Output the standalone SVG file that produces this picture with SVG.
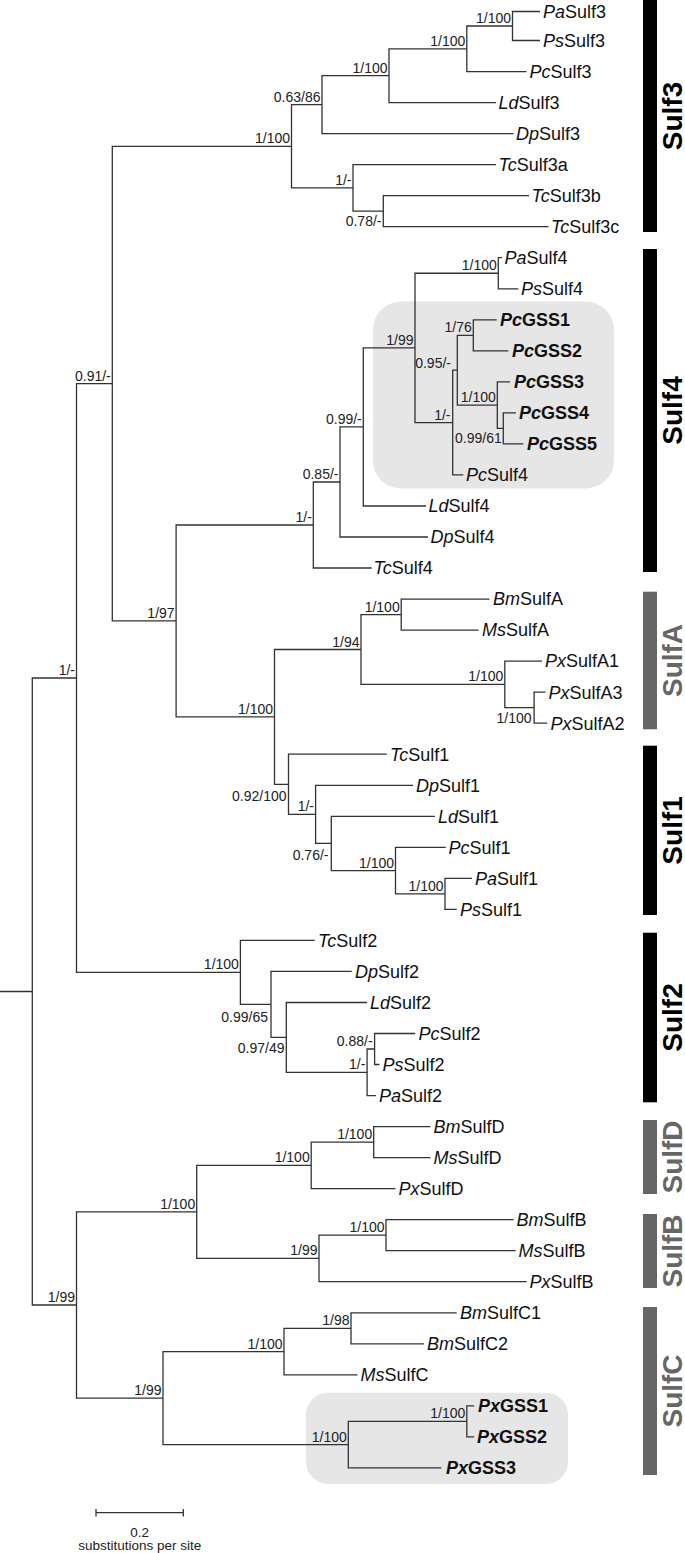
<svg xmlns="http://www.w3.org/2000/svg" width="685" height="1553" viewBox="0 0 685 1553">
<style>
.br{fill:none;stroke:#333;stroke-width:1.3}
.lf{font-family:"Liberation Sans",Arial,sans-serif;font-size:18px;fill:#111}
.gs{font-weight:bold}
.i{font-style:italic}
.sp{font-family:"Liberation Sans",Arial,sans-serif;font-size:14px;fill:#222;text-anchor:end}
.grp{font-family:"Liberation Sans",Arial,sans-serif;font-size:28px;font-weight:bold;text-anchor:middle}
.bk{fill:#000}
.gy{fill:#666}
.box{fill:#e6e6e6}
.sc{font-family:"Liberation Sans",Arial,sans-serif;font-size:13.5px;fill:#222;text-anchor:middle}
</style>
<rect width="685" height="1553" fill="#fff"/>
<g id="highlight-boxes">
<rect class="box" x="373" y="301.5" width="241" height="187" rx="28"/>
<rect class="box" x="306" y="1392.7" width="262" height="91.3" rx="22"/>
</g>
<g id="connectors">
<path class="br" d="M0 991.5H32.3M76.5 678H32.3V1305H76.5"/>
<path class="br" d="M112.3 383.6H76.5V972.4H240.4"/>
<path class="br" d="M291.5 146.3H112.3V620.95H176.1"/>
<path class="br" d="M322 104.65H291.5V187.95H353"/>
<path class="br" d="M389 75.7H322V133.6H513.5"/>
<path class="br" d="M466.8 48.8H389V102.6H496"/>
<path class="br" d="M512.5 26H466.8V71.6H526.5"/>
<path class="br" d="M540 11.5H512.5V40.5H540"/>
<path class="br" d="M496 164.7H353V211.2H383.3"/>
<path class="br" d="M529 195.7H383.3V226.7H548.5"/>
<path class="br" d="M313.3 525H176.1V716.9H274.5"/>
<path class="br" d="M340 481.98H313.3V568H371.7"/>
<path class="br" d="M363.3 426.95H340V537H428"/>
<path class="br" d="M415 347.9H363.3V506H426"/>
<path class="br" d="M498.3 273.25H415V422.55H452.7"/>
<path class="br" d="M502 257.7H498.3V288.8H518.3"/>
<path class="br" d="M457.3 370.2H452.7V474.9H463.3"/>
<path class="br" d="M473.3 335.3H457.3V405.15H497.3"/>
<path class="br" d="M496.7 319.8H473.3V350.8H508.3"/>
<path class="br" d="M510 381.9H497.3V428.4H503.3"/>
<path class="br" d="M516 412.9H503.3V443.9H523.3"/>
<path class="br" d="M361 649.5H274.5V784.3H288.5"/>
<path class="br" d="M401.2 614.6H361V684.4H504.8"/>
<path class="br" d="M489.5 599.1H401.2V630.1H478.6"/>
<path class="br" d="M542 661.1H504.8V707.7H534.1"/>
<path class="br" d="M545.5 692.2H534.1V723.2H547.2"/>
<path class="br" d="M386.8 754.2H288.5V814.4H315.6"/>
<path class="br" d="M413 785.3H315.6V843.45H331.3"/>
<path class="br" d="M434.9 816.3H331.3V870.6H395.5"/>
<path class="br" d="M445.8 847.3H395.5V893.85H445"/>
<path class="br" d="M472 878.3H445V909.4H456.7"/>
<path class="br" d="M314.7 940.4H240.4V1004.4H271"/>
<path class="br" d="M351.8 971.4H271V1037.4H286.3"/>
<path class="br" d="M367 1002.5H286.3V1072.3H367.1"/>
<path class="br" d="M374.6 1049H367.1V1095.6H375.9"/>
<path class="br" d="M415.2 1033.5H374.6V1064.5H379.4"/>
<path class="br" d="M196.7 1211.9H76.5V1398.1H163"/>
<path class="br" d="M311.2 1165.4H196.7V1258.45H319"/>
<path class="br" d="M373.7 1142.1H311.2V1188.7H395.5"/>
<path class="br" d="M430.5 1126.6H373.7V1157.6H430.5"/>
<path class="br" d="M386 1235.2H319V1281.7H526.7"/>
<path class="br" d="M513.5 1219.7H386V1250.7H515.7"/>
<path class="br" d="M284 1351.55H163V1444.65H348.3"/>
<path class="br" d="M351 1328.3H284V1374.8H357.5"/>
<path class="br" d="M456.7 1312.8H351V1343.8H424"/>
<path class="br" d="M466.8 1421.4H348.3V1467.9H441.4"/>
<path class="br" d="M474.2 1405.9H466.8V1436.9H474.2"/>
</g>
<g id="support-values">
<text class="sp" x="511" y="23">1/100</text>
<text class="sp" x="465.3" y="45.8">1/100</text>
<text class="sp" x="387.5" y="72.7">1/100</text>
<text class="sp" x="320.5" y="101.6">0.63/86</text>
<text class="sp" x="290" y="143.3">1/100</text>
<text class="sp" x="351.5" y="185">1/-</text>
<text class="sp" x="381.5" y="226">0.78/-</text>
<text class="sp" x="496.8" y="270.2">1/100</text>
<text class="sp" x="413.5" y="344.9">1/99</text>
<text class="sp" x="471.8" y="332.3">1/76</text>
<text class="sp" x="451" y="368">0.95/-</text>
<text class="sp" x="495.8" y="402.1">1/100</text>
<text class="sp" x="501.8" y="443">0.99/61</text>
<text class="sp" x="450.5" y="419.5">1/-</text>
<text class="sp" x="361.8" y="424">0.99/-</text>
<text class="sp" x="338.5" y="479">0.85/-</text>
<text class="sp" x="311.8" y="522">1/-</text>
<text class="sp" x="110.8" y="380.6">0.91/-</text>
<text class="sp" x="174.6" y="618">1/97</text>
<text class="sp" x="75" y="675">1/-</text>
<text class="sp" x="399.7" y="611.6">1/100</text>
<text class="sp" x="359.5" y="646.5">1/94</text>
<text class="sp" x="503.3" y="681.4">1/100</text>
<text class="sp" x="531.5" y="723">1/100</text>
<text class="sp" x="273" y="713.9">1/100</text>
<text class="sp" x="286.5" y="801">0.92/100</text>
<text class="sp" x="314" y="811.4">1/-</text>
<text class="sp" x="328.5" y="860">0.76/-</text>
<text class="sp" x="394" y="867.6">1/100</text>
<text class="sp" x="443.5" y="890.8">1/100</text>
<text class="sp" x="238.9" y="969.4">1/100</text>
<text class="sp" x="268" y="1022">0.99/65</text>
<text class="sp" x="284.5" y="1053">0.97/49</text>
<text class="sp" x="372.6" y="1046">0.88/-</text>
<text class="sp" x="365.3" y="1069.3">1/-</text>
<text class="sp" x="372.2" y="1139.1">1/100</text>
<text class="sp" x="309.7" y="1162.4">1/100</text>
<text class="sp" x="195.2" y="1208.9">1/100</text>
<text class="sp" x="384.5" y="1232.2">1/100</text>
<text class="sp" x="317.5" y="1255.4">1/99</text>
<text class="sp" x="75" y="1302">1/99</text>
<text class="sp" x="349.5" y="1325.3">1/98</text>
<text class="sp" x="282.5" y="1348.5">1/100</text>
<text class="sp" x="161.5" y="1395.1">1/99</text>
<text class="sp" x="465.3" y="1418.4">1/100</text>
<text class="sp" x="346.8" y="1441.6">1/100</text>
</g>
<g id="leaf-PaSulf3"><text class="lf" x="543" y="17.8"><tspan class="i">Pa</tspan>Sulf3</text></g>
<g id="leaf-PsSulf3"><text class="lf" x="543" y="46.8"><tspan class="i">Ps</tspan>Sulf3</text></g>
<g id="leaf-PcSulf3"><text class="lf" x="529.5" y="77.9"><tspan class="i">Pc</tspan>Sulf3</text></g>
<g id="leaf-LdSulf3"><text class="lf" x="498.5" y="108.9"><tspan class="i">Ld</tspan>Sulf3</text></g>
<g id="leaf-DpSulf3"><text class="lf" x="516" y="139.9"><tspan class="i">Dp</tspan>Sulf3</text></g>
<g id="leaf-TcSulf3a"><text class="lf" x="498.5" y="171"><tspan class="i">Tc</tspan>Sulf3a</text></g>
<g id="leaf-TcSulf3b"><text class="lf" x="531.5" y="202"><tspan class="i">Tc</tspan>Sulf3b</text></g>
<g id="leaf-TcSulf3c"><text class="lf" x="551" y="233"><tspan class="i">Tc</tspan>Sulf3c</text></g>
<g id="leaf-PaSulf4"><text class="lf" x="504.5" y="264"><tspan class="i">Pa</tspan>Sulf4</text></g>
<g id="leaf-PsSulf4"><text class="lf" x="521" y="295.1"><tspan class="i">Ps</tspan>Sulf4</text></g>
<g id="leaf-PcGSS1"><text class="lf gs" x="500" y="326.1"><tspan class="i">Pc</tspan>GSS1</text></g>
<g id="leaf-PcGSS2"><text class="lf gs" x="512" y="357.1"><tspan class="i">Pc</tspan>GSS2</text></g>
<g id="leaf-PcGSS3"><text class="lf gs" x="514" y="388.2"><tspan class="i">Pc</tspan>GSS3</text></g>
<g id="leaf-PcGSS4"><text class="lf gs" x="519" y="419.2"><tspan class="i">Pc</tspan>GSS4</text></g>
<g id="leaf-PcGSS5"><text class="lf gs" x="527" y="450.2"><tspan class="i">Pc</tspan>GSS5</text></g>
<g id="leaf-PcSulf4"><text class="lf" x="466" y="481.2"><tspan class="i">Pc</tspan>Sulf4</text></g>
<g id="leaf-LdSulf4"><text class="lf" x="428.5" y="512.3"><tspan class="i">Ld</tspan>Sulf4</text></g>
<g id="leaf-DpSulf4"><text class="lf" x="430.5" y="543.3"><tspan class="i">Dp</tspan>Sulf4</text></g>
<g id="leaf-TcSulf4"><text class="lf" x="373.5" y="574.3"><tspan class="i">Tc</tspan>Sulf4</text></g>
<g id="leaf-BmSulfA"><text class="lf" x="493" y="605.4"><tspan class="i">Bm</tspan>SulfA</text></g>
<g id="leaf-MsSulfA"><text class="lf" x="482" y="636.4"><tspan class="i">Ms</tspan>SulfA</text></g>
<g id="leaf-PxSulfA1"><text class="lf" x="545" y="667.4"><tspan class="i">Px</tspan>SulfA1</text></g>
<g id="leaf-PxSulfA3"><text class="lf" x="548.5" y="698.5"><tspan class="i">Px</tspan>SulfA3</text></g>
<g id="leaf-PxSulfA2"><text class="lf" x="550.5" y="729.5"><tspan class="i">Px</tspan>SulfA2</text></g>
<g id="leaf-TcSulf1"><text class="lf" x="390" y="760.5"><tspan class="i">Tc</tspan>Sulf1</text></g>
<g id="leaf-DpSulf1"><text class="lf" x="416" y="791.6"><tspan class="i">Dp</tspan>Sulf1</text></g>
<g id="leaf-LdSulf1"><text class="lf" x="438" y="822.6"><tspan class="i">Ld</tspan>Sulf1</text></g>
<g id="leaf-PcSulf1"><text class="lf" x="448.5" y="853.6"><tspan class="i">Pc</tspan>Sulf1</text></g>
<g id="leaf-PaSulf1"><text class="lf" x="475" y="884.6"><tspan class="i">Pa</tspan>Sulf1</text></g>
<g id="leaf-PsSulf1"><text class="lf" x="460" y="915.7"><tspan class="i">Ps</tspan>Sulf1</text></g>
<g id="leaf-TcSulf2"><text class="lf" x="318" y="946.7"><tspan class="i">Tc</tspan>Sulf2</text></g>
<g id="leaf-DpSulf2"><text class="lf" x="355" y="977.7"><tspan class="i">Dp</tspan>Sulf2</text></g>
<g id="leaf-LdSulf2"><text class="lf" x="370" y="1008.8"><tspan class="i">Ld</tspan>Sulf2</text></g>
<g id="leaf-PcSulf2"><text class="lf" x="418.5" y="1039.8"><tspan class="i">Pc</tspan>Sulf2</text></g>
<g id="leaf-PsSulf2"><text class="lf" x="382.5" y="1070.8"><tspan class="i">Ps</tspan>Sulf2</text></g>
<g id="leaf-PaSulf2"><text class="lf" x="379" y="1101.9"><tspan class="i">Pa</tspan>Sulf2</text></g>
<g id="leaf-BmSulfD"><text class="lf" x="433.5" y="1132.9"><tspan class="i">Bm</tspan>SulfD</text></g>
<g id="leaf-MsSulfD"><text class="lf" x="433.5" y="1163.9"><tspan class="i">Ms</tspan>SulfD</text></g>
<g id="leaf-PxSulfD"><text class="lf" x="398.5" y="1195"><tspan class="i">Px</tspan>SulfD</text></g>
<g id="leaf-BmSulfB"><text class="lf" x="516.5" y="1226"><tspan class="i">Bm</tspan>SulfB</text></g>
<g id="leaf-MsSulfB"><text class="lf" x="518.5" y="1257"><tspan class="i">Ms</tspan>SulfB</text></g>
<g id="leaf-PxSulfB"><text class="lf" x="529.5" y="1288"><tspan class="i">Px</tspan>SulfB</text></g>
<g id="leaf-BmSulfC1"><text class="lf" x="460" y="1319.1"><tspan class="i">Bm</tspan>SulfC1</text></g>
<g id="leaf-BmSulfC2"><text class="lf" x="427" y="1350.1"><tspan class="i">Bm</tspan>SulfC2</text></g>
<g id="leaf-MsSulfC"><text class="lf" x="360.5" y="1381.1"><tspan class="i">Ms</tspan>SulfC</text></g>
<g id="leaf-PxGSS1"><text class="lf gs" x="478" y="1412.2"><tspan class="i">Px</tspan>GSS1</text></g>
<g id="leaf-PxGSS2"><text class="lf gs" x="477" y="1443.2"><tspan class="i">Px</tspan>GSS2</text></g>
<g id="leaf-PxGSS3"><text class="lf gs" x="446" y="1474.2"><tspan class="i">Px</tspan>GSS3</text></g>
<g id="group-Sulf3"><rect class="bk" x="643" y="0" width="14" height="232"/><text class="grp" fill="#000" transform="translate(682 116) rotate(-90)">Sulf3</text></g>
<g id="group-Sulf4"><rect class="bk" x="643" y="249" width="14" height="323"/><text class="grp" fill="#000" transform="translate(682 410.5) rotate(-90)">Sulf4</text></g>
<g id="group-SulfA"><rect class="gy" x="643" y="591.7" width="14" height="137.6"/><text class="grp" fill="#666" transform="translate(682 660.5) rotate(-90)">SulfA</text></g>
<g id="group-Sulf1"><rect class="bk" x="643" y="745.7" width="14" height="169.3"/><text class="grp" fill="#000" transform="translate(682 830.4) rotate(-90)">Sulf1</text></g>
<g id="group-Sulf2"><rect class="bk" x="643" y="932.7" width="14" height="169.6"/><text class="grp" fill="#000" transform="translate(682 1017.5) rotate(-90)">Sulf2</text></g>
<g id="group-SulfD"><rect class="gy" x="643" y="1120" width="14" height="74"/><text class="grp" fill="#666" transform="translate(682 1157) rotate(-90)">SulfD</text></g>
<g id="group-SulfB"><rect class="gy" x="643" y="1214" width="14" height="74"/><text class="grp" fill="#666" transform="translate(682 1251) rotate(-90)">SulfB</text></g>
<g id="group-SulfC"><rect class="gy" x="643" y="1307" width="14" height="168"/><text class="grp" fill="#666" transform="translate(682 1391) rotate(-90)">SulfC</text></g>
<g id="scale-bar">
<path class="br" d="M96 1512.7H183.3M96 1509V1516.5M183.3 1509V1516.5"/>
<text class="sc" x="139.7" y="1536.7">0.2</text>
<text class="sc" x="139.7" y="1550">substitutions per site</text>
</g>
</svg>
